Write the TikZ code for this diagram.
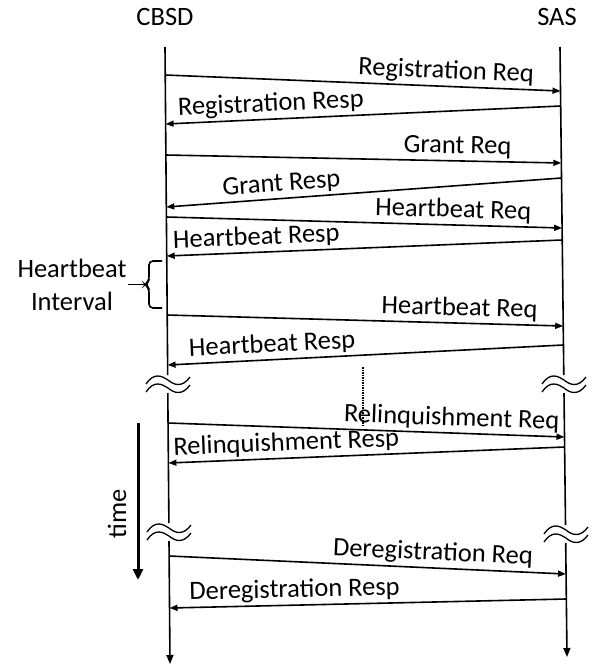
\documentclass[tikz,border=0pt]{standalone}
\usepackage{fontspec}
\setmainfont{Carlito}
\usetikzlibrary{arrows.meta}
\begin{document}
\begin{tikzpicture}[x=1pt,y=-1pt,
  life/.style={line width=1.6pt},
  msgf/.style={line width=1.6pt,-{Triangle[length=8pt,width=6pt]}},
  msgb/.style={line width=1.6pt,{Triangle[length=8pt,width=6pt]}-},
  lbl/.style={font=\fontsize{26.5}{30}\selectfont,inner sep=2.5pt,sloped,above},
  txt/.style={font=\fontsize{26.5}{33}\selectfont,inner sep=0pt},
  wave/.style={line width=1.3pt}]
\useasboundingbox (0,0) rectangle (590,664);
\newcommand\brkmark[2]{%
  \draw[wave] (#1-22,#2+4) .. controls (#1-14,#2-8) and (#1-6,#2-4) .. (#1,#2) .. controls (#1+6,#2+5) and (#1+14,#2+8) .. (#1+22,#2-3);}
% headers
\node[txt] (cbsd) at (165,17) {CBSD};
\node[txt] (sas) at (557,17) {SAS};
% lifeline coordinates
\coordinate (ct) at (165,47);
\coordinate (cb1) at (167.7,375);
\coordinate (cb2) at (167.8,393);
\coordinate (cb3) at (168.9,523);
\coordinate (cb4) at (169.0,541);
\coordinate (ce) at (170,664);
\coordinate (st) at (560,47);
\coordinate (sb1) at (563.8,375);
\coordinate (sb2) at (564.0,393);
\coordinate (sb3) at (565.5,525);
\coordinate (sb4) at (565.7,543);
\coordinate (se) at (567,657);
\draw[life] (ct) -- (cb1);
\draw[life] (cb2) -- (cb3);
\draw[life,-{Triangle[length=9pt,width=7pt]}] (cb4) -- (ce);
\draw[life] (st) -- (sb1);
\draw[life] (sb2) -- (sb3);
\draw[life,-{Triangle[length=9pt,width=7pt]}] (sb4) -- (se);
% breaks
\brkmark{168}{380}
\brkmark{168}{388}
\brkmark{564}{380}
\brkmark{564}{388}
\brkmark{169}{528}
\brkmark{169}{536}
\brkmark{566}{530}
\brkmark{566}{538}
% message endpoints
\coordinate (c1) at (165.2,75);   \coordinate (s1) at (560.5,91);
\coordinate (c2) at (165.6,124);  \coordinate (s2) at (560.7,106);
\coordinate (c3) at (165.9,155);  \coordinate (s3) at (561.3,163);
\coordinate (c4) at (166.3,207);  \coordinate (s4) at (561.5,178);
\coordinate (c5) at (166.4,217);  \coordinate (s5) at (562.1,228);
\coordinate (c6) at (166.7,256);  \coordinate (s6) at (562.2,240);
\coordinate (c7) at (167.2,315);  \coordinate (s7) at (563.2,326);
\coordinate (c8) at (167.6,365);  \coordinate (s8) at (563.4,345);
\coordinate (c9) at (168.1,423);  \coordinate (s9) at (564.5,437);
\coordinate (c10) at (168.4,463); \coordinate (s10) at (564.6,447);
\coordinate (c11) at (169.1,556); \coordinate (s11) at (566.0,574);
\coordinate (c12) at (169.5,608); \coordinate (s12) at (566.3,599);
\draw[msgf] (c1) -- node[lbl,pos=0.709] (l1) {Registration Req} (s1);
\draw[msgb] (c2) -- node[lbl,pos=0.268] (l2) {Registration Resp} (s2);
\draw[msgf] (c3) -- node[lbl,pos=0.737] (l3) {Grant Req} (s3);
\draw[msgb] (c4) -- node[lbl,pos=0.294] (l4) {Grant Resp} (s4);
\draw[msgf] (c5) -- node[lbl,pos=0.724] (l5) {Heartbeat Req} (s5);
\draw[msgb] (c6) -- node[lbl,pos=0.228] (l6) {Heartbeat Resp} (s6);
\draw[msgf] (c7) -- node[lbl,pos=0.737] (l7) {Heartbeat Req} (s7);
\draw[msgb] (c8) -- node[lbl,pos=0.266] (l8) {Heartbeat Resp} (s8);
\draw[msgf] (c9) -- node[lbl,pos=0.714] (l9) {Relinquishment Req} (s9);
\draw[msgb] (c10) -- node[lbl,pos=0.299] (l10) {Relinquishment Resp} (s10);
\draw[msgf] (c11) -- node[lbl,pos=0.663] (l11) {Deregistration Req} (s11);
\draw[msgb] (c12) -- node[lbl,pos=0.316] (l12) {Deregistration Resp} (s12);
% dotted line
\coordinate (d1) at (363,367);
\coordinate (d2) at (363,425);
\draw[line width=1.5pt,densely dotted] (d1) -- (d2);
% heartbeat interval
\node[txt,align=center] (hbi) at (72,285) {Heartbeat\\Interval};
\draw[line width=1.6pt,rounded corners=4pt] (162,261) -- (149,261) -- (149,281) -- (145,284.5) -- (149,288) -- (149,308) -- (162,308);
\coordinate (bt) at (145,284.5);
\draw[line width=1.6pt] (bt) -- (128,284.5);
% time
\coordinate (t1) at (138,423);
\coordinate (t2) at (138,580);
\draw[line width=3pt,-{Triangle[length=11pt,width=10pt]}] (t1) -- (t2);
\node[txt,rotate=90] (time) at (117,514) {time};
\end{tikzpicture}
\end{document}
